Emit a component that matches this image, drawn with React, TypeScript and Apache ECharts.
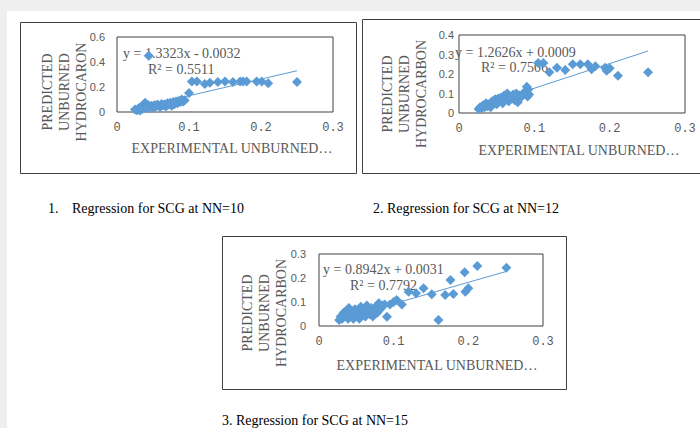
import React, { useEffect, useRef } from "react";
import * as echarts from "echarts";

// NN=10
const nn10X = [0.025, 0.028, 0.03, 0.032, 0.033, 0.035, 0.036, 0.038, 0.039, 0.04, 0.041, 0.042, 0.044, 0.046, 0.048, 0.05, 0.052, 0.054, 0.056, 0.058, 0.06, 0.062, 0.064, 0.066, 0.068, 0.07, 0.072, 0.074, 0.076, 0.078, 0.08, 0.082, 0.084, 0.086, 0.088, 0.09, 0.092, 0.094, 0.1, 0.104, 0.111, 0.122, 0.129, 0.14, 0.15, 0.161, 0.171, 0.175, 0.18, 0.194, 0.201, 0.21, 0.25, 0.044];
const nn10Y = [0.02, 0.015, 0.03, 0.012, 0.04, 0.025, 0.05, 0.035, 0.075, 0.06, 0.045, 0.03, 0.055, 0.04, 0.05, 0.035, 0.055, 0.045, 0.06, 0.05, 0.04, 0.065, 0.055, 0.06, 0.045, 0.07, 0.06, 0.075, 0.05, 0.08, 0.065, 0.085, 0.07, 0.09, 0.08, 0.1, 0.085, 0.095, 0.152, 0.245, 0.245, 0.225, 0.235, 0.24, 0.245, 0.24, 0.245, 0.245, 0.245, 0.245, 0.245, 0.23, 0.24, 0.45];

// NN=12
const nn12X = [0.026, 0.028, 0.03, 0.032, 0.034, 0.036, 0.038, 0.04, 0.042, 0.044, 0.046, 0.048, 0.05, 0.052, 0.054, 0.056, 0.058, 0.06, 0.062, 0.064, 0.066, 0.068, 0.07, 0.072, 0.074, 0.076, 0.078, 0.08, 0.082, 0.085, 0.088, 0.09, 0.091, 0.092, 0.093, 0.105, 0.112, 0.12, 0.13, 0.141, 0.151, 0.161, 0.171, 0.176, 0.181, 0.194, 0.196, 0.2, 0.211, 0.251];
const nn12Y = [0.02, 0.03, 0.025, 0.04, 0.03, 0.05, 0.035, 0.045, 0.03, 0.06, 0.05, 0.07, 0.045, 0.075, 0.06, 0.08, 0.05, 0.09, 0.07, 0.1, 0.06, 0.085, 0.075, 0.095, 0.065, 0.1, 0.055, 0.09, 0.08, 0.1, 0.11, 0.135, 0.085, 0.12, 0.095, 0.256, 0.256, 0.209, 0.232, 0.22, 0.25, 0.25, 0.25, 0.225, 0.24, 0.232, 0.217, 0.23, 0.191, 0.209];

// NN=15
const nn15X = [0.027, 0.029, 0.031, 0.033, 0.035, 0.037, 0.039, 0.04, 0.042, 0.044, 0.046, 0.048, 0.05, 0.052, 0.054, 0.056, 0.058, 0.06, 0.062, 0.064, 0.066, 0.068, 0.07, 0.072, 0.074, 0.076, 0.078, 0.08, 0.082, 0.085, 0.088, 0.091, 0.095, 0.1, 0.104, 0.111, 0.12, 0.13, 0.14, 0.151, 0.16, 0.169, 0.176, 0.18, 0.195, 0.196, 0.2, 0.212, 0.251];
const nn15Y = [0.025, 0.04, 0.03, 0.055, 0.045, 0.065, 0.03, 0.075, 0.05, 0.06, 0.03, 0.07, 0.045, 0.065, 0.03, 0.08, 0.055, 0.07, 0.04, 0.085, 0.06, 0.05, 0.075, 0.04, 0.065, 0.08, 0.055, 0.095, 0.07, 0.085, 0.09, 0.039, 0.09, 0.1, 0.108, 0.09, 0.143, 0.136, 0.157, 0.132, 0.025, 0.129, 0.192, 0.133, 0.224, 0.143, 0.157, 0.25, 0.243];

const slopes = [1.3323, 1.2626, 0.8942];
const intercepts = [-0.0032, 0.0009, 0.0031];
const equations = ["y = 1.3323x - 0.0032", "y = 1.2626x + 0.0009", "y = 0.8942x + 0.0031"];
const r2Labels = ["R² = 0.5511", "R² = 0.7506", "R² = 0.7792"];
const yTitles = ["PREDICTED\nUNBURNED\nHYDROCARON", "PREDICTED\nUNBURNED\nHYDROCARBON", "PREDICTED\nUNBURNED\nHYDROCARBON"];
const xTitle = "EXPERIMENTAL UNBURNED…";
const yMaxes = [0.6, 0.4, 0.3];
const yIntervals = [0.2, 0.1, 0.1];
const captions = ["1.", "Regression for SCG at NN=10", "2. Regression for SCG at NN=12", "3. Regression for SCG at NN=15"];

const BLUE = "#5b9bd5";
const GRAY = "#595959";
const SERIF = "Liberation Serif, Times New Roman, serif";

export default function App() {
  const ref = useRef<HTMLDivElement>(null);
  useEffect(() => {
    document.body.style.margin = "0";
    const chart = echarts.init(ref.current!, null, { renderer: "svg" });
    const xs = [nn10X, nn12X, nn15X];
    const ys = [nn10Y, nn12Y, nn15Y];
    const grids = [
      { left: 117, top: 37, width: 216, height: 75 },
      { left: 459, top: 35, width: 226, height: 78 },
      { left: 319, top: 254, width: 224, height: 72 },
    ];
    const yMargins = [12, 5, 13];
    const series: any[] = [];
    xs.forEach((xArr, i) => {
      series.push({
        type: "scatter",
        xAxisIndex: i,
        yAxisIndex: i,
        symbol: "diamond",
        symbolSize: 10,
        itemStyle: { color: BLUE, opacity: 1 },
        data: xArr.map((x, j) => [x, ys[i][j]]),
        z: 3,
        clip: false,
      });
      const mn = Math.min(...xArr);
      const mx = Math.max(...xArr);
      series.push({
        type: "line",
        xAxisIndex: i,
        yAxisIndex: i,
        symbol: "none",
        lineStyle: { color: BLUE, width: 1 },
        data: [
          [mn, slopes[i] * mn + intercepts[i]],
          [mx, slopes[i] * mx + intercepts[i]],
        ],
        z: 2,
      });
    });
    const annPos = [
      { ex: 123, ey: 53, rx: 148, ry: 69 },
      { ex: 455, ey: 52, rx: 481, ry: 67 },
      { ex: 323, ey: 269, rx: 350, ry: 285 },
    ];
    const yTitlePos = [
      { x: 64, y: 92 },
      { x: 404, y: 94 },
      { x: 264, y: 313 },
    ];
    const xTitlePos = [
      { x: 232, y: 148 },
      { x: 579, y: 150 },
      { x: 437, y: 365 },
    ];
    const graphics: any[] = [
      { type: "rect", shape: { x: 0, y: 0, width: 700, height: 428 }, style: { fill: "#efefef" }, z: -10, silent: true },
      { type: "rect", shape: { x: 7, y: 11, width: 693, height: 417 }, style: { fill: "#ffffff" }, z: -9, silent: true },
      { type: "rect", shape: { x: 20.5, y: 22.5, width: 336, height: 151 }, style: { fill: "none", stroke: "#404040", lineWidth: 1 }, z: -5 },
      { type: "rect", shape: { x: 362.5, y: 19.5, width: 345, height: 154 }, style: { fill: "none", stroke: "#404040", lineWidth: 1 }, z: -5 },
      { type: "rect", shape: { x: 222.5, y: 236.5, width: 344, height: 153 }, style: { fill: "none", stroke: "#404040", lineWidth: 1 }, z: -5 },
    ];
    for (let i = 0; i < 3; i++) {
      graphics.push({
        type: "text", x: annPos[i].ex, y: annPos[i].ey, z: 1,
        style: { text: equations[i], fill: GRAY, font: `14px ${SERIF}`, verticalAlign: "middle", align: "left" },
      });
      graphics.push({
        type: "text", x: annPos[i].rx, y: annPos[i].ry, z: 1,
        style: { text: r2Labels[i], fill: GRAY, font: `14px ${SERIF}`, verticalAlign: "middle", align: "left" },
      });
      graphics.push({
        type: "text", x: yTitlePos[i].x, y: yTitlePos[i].y, rotation: Math.PI / 2, z: 1,
        style: { text: yTitles[i], fill: GRAY, font: `14px ${SERIF}`, lineHeight: 17, verticalAlign: "middle", align: "center" },
      });
      graphics.push({
        type: "text", x: xTitlePos[i].x, y: xTitlePos[i].y, z: 1,
        style: { text: xTitle, fill: GRAY, font: `14px ${SERIF}`, verticalAlign: "middle", align: "center" },
      });
    }
    graphics.push({ type: "text", x: 48, y: 208, style: { text: captions[0], fill: "#000", font: `14px ${SERIF}`, verticalAlign: "middle" } });
    graphics.push({ type: "text", x: 72, y: 208, style: { text: captions[1], fill: "#000", font: `14px ${SERIF}`, verticalAlign: "middle" } });
    graphics.push({ type: "text", x: 373, y: 208, style: { text: captions[2], fill: "#000", font: `14px ${SERIF}`, verticalAlign: "middle" } });
    graphics.push({ type: "text", x: 222, y: 420, style: { text: captions[3], fill: "#000", font: `14px ${SERIF}`, verticalAlign: "middle" } });

    chart.setOption({
      animation: false,
      grid: grids.map((g) => ({ ...g, show: true, borderColor: "#404040", borderWidth: 1, backgroundColor: "transparent", containLabel: false })),
      xAxis: grids.map((_, i) => ({
        type: "value",
        gridIndex: i,
        min: 0,
        max: 0.3,
        interval: 0.1,
        axisLine: { show: false },
        axisTick: { show: false },
        splitLine: { show: false },
        axisLabel: { color: GRAY, fontFamily: "Liberation Mono, monospace", fontSize: 12, margin: 10 },
      })),
      yAxis: grids.map((_, i) => ({
        type: "value",
        gridIndex: i,
        min: 0,
        max: yMaxes[i],
        interval: yIntervals[i],
        axisLine: { show: false },
        axisTick: { show: false },
        splitLine: { show: false },
        axisLabel: { color: GRAY, fontFamily: "Liberation Sans, Arial, sans-serif", fontSize: 11, margin: yMargins[i] },
      })),
      series,
      graphic: graphics,
    });
    return () => chart.dispose();
  }, []);
  return <div ref={ref} style={{ position: "absolute", left: 0, top: 0, width: 700, height: 428 }} />;
}
